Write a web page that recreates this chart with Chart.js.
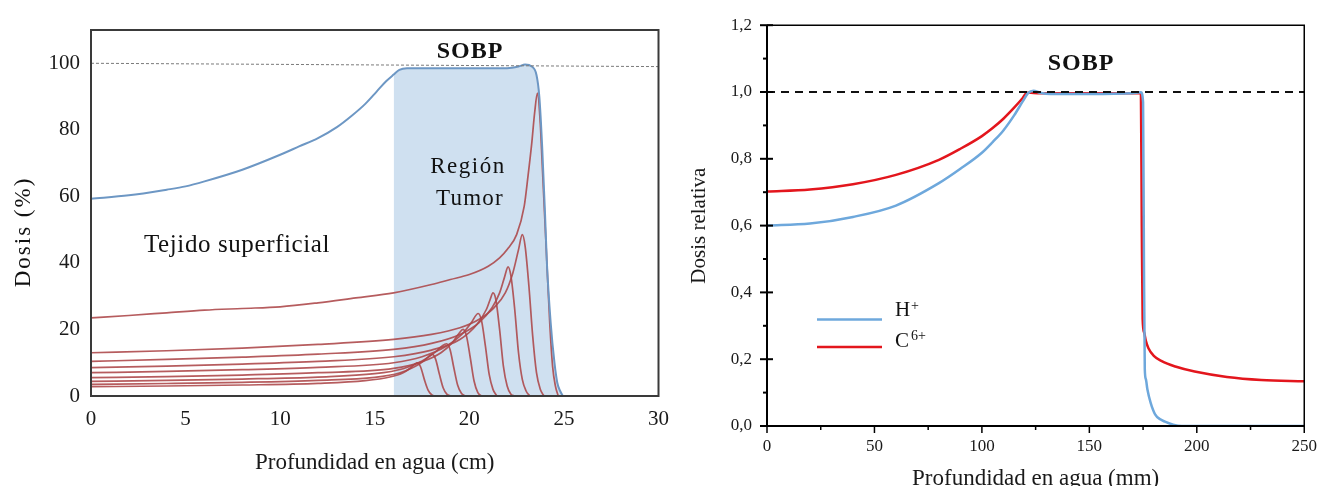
<!DOCTYPE html>
<html><head><meta charset="utf-8">
<script src="https://cdn.jsdelivr.net/npm/chart.js@4.4.1/dist/chart.umd.min.js"></script>
<style>
html,body{margin:0;padding:0;background:#fff;}
#wrap{position:relative;width:1327px;height:486px;overflow:hidden;background:#fff;}
#c1{position:absolute;left:0;top:0;}
#c2{position:absolute;left:680px;top:0;}
</style></head><body>
<div id="wrap"><canvas id="c1" width="680" height="486"></canvas><canvas id="c2" width="647" height="486"></canvas></div>
<script>
// ---------- Left chart data (depth cm, dose %) ----------
const leftXTicks = [0, 5, 10, 15, 20, 25, 30];
const refX = [0, 30];
const refY = [100, 99];
const sobpX = [0,2,4,5,6,8,10,11,12,13,13.8,14.5,15.1,15.6,16.0,16.3,16.7,18,20,22,22.6,22.95,23.3,23.55,23.7,23.85,24.0,24.1,24.3,24.5,24.65,24.8,24.95];
const sobpY = [59.3,60.3,62,63,64.5,68,72.5,75,77.5,80.8,84.3,87.8,91.5,94.6,96.6,98.0,98.5,98.5,98.5,98.5,99,99.6,99,96.5,90,75,55,40,22,10,4,1.5,0];
const regionStart = 16;

const peak1X = [0,2,4,6,8,10,12,14,16,18,19,20,21,21.6,22,22.5,22.9,23.1,23.3,23.45,23.6,23.75,23.85,24.0,24.1,24.25,24.4,24.55,24.7];
const peak1Y = [23.5,24.2,25,25.8,26.3,26.8,28,29.5,31,33.5,35,36.5,39,41.5,44,48.5,57,66,76,85,91,82,70,52,40,22,9,3,0];
const peak2X = [0,4,8,12,16,18,19.5,20.5,21.3,21.9,22.3,22.6,22.8,22.95,23.15,23.35,23.55,23.75,23.95];
const peak2Y = [13,13.6,14.4,15.5,17,18.5,20.5,23,26.5,31,37,44,48.5,45,33,18,7,2,0];
const peak3X = [0,4,8,12,16,18,19.5,20.5,21.2,21.6,21.85,22.05,22.2,22.4,22.6,22.8,23.0,23.2];
const peak3Y = [10.4,11,11.7,12.6,14,15.8,18.5,22,26.5,31,35.5,38.8,36,26,13,5,1.5,0];
const peak4X = [0,4,8,12,16,18,19.5,20.4,20.9,21.1,21.25,21.4,21.6,21.8,22.0,22.2,22.4];
const peak4Y = [8.5,9,9.6,10.4,11.8,13.8,17,21.5,26,29,31,29,20,9,3,0.5,0];
const peak5X = [0,4,8,12,16,17.5,18.8,19.6,20.1,20.47,20.65,20.85,21.05,21.25,21.45];
const peak5Y = [7,7.4,7.9,8.6,10,11.8,15,18.5,22,24.8,22.5,15,6.5,2,0];
const peak6X = [0,4,8,12,16,17.5,18.5,19.1,19.45,19.67,19.85,20.05,20.25,20.45,20.65];
const peak6Y = [5.5,5.8,6.3,7,8.3,10.3,13,16,18.8,20,18,11.5,4.5,1,0];
const peak7X = [0,4,8,12,15,16.5,17.5,18.2,18.55,18.8,18.98,19.18,19.38,19.58,19.78];
const peak7Y = [4.4,4.7,5.1,5.7,6.7,8.2,10.5,13.2,15,15.7,14,8.5,3.3,0.8,0];
const peak8X = [0,4,8,12,15,16.3,17.1,17.6,17.85,18.05,18.22,18.42,18.62,18.82,19.02];
const peak8Y = [3.5,3.75,4.1,4.7,5.6,6.9,8.8,10.6,11.9,12.5,11,6.5,2.4,0.5,0];
const peak9X = [0,4,8,12,14.5,15.8,16.5,16.9,17.1,17.25,17.42,17.62,17.82,18.02,18.2];
const peak9Y = [2.8,3,3.3,3.8,4.6,5.7,7,8.5,9.5,10,8.8,5,1.8,0.3,0];

// ---------- Right chart data (depth mm, relative dose) ----------
const rightYTickLabels = ['0,0','0,2','0,4','0,6','0,8','1,0','1,2'];
const rightXTicks = [0, 50, 100, 150, 200, 250];
const unitX = [0, 250];
const unitY = [1, 1];
const hX = [0,20,40,60,80,90,100,105,110,115,119,121.5,124,127,132,150,170,174,175,175.4,175.8,176.3,177,178.5,180.6,183,185.2,189,193,250];
const hY = [0.6,0.606,0.626,0.66,0.727,0.77,0.818,0.85,0.885,0.93,0.972,0.997,1.004,0.998,0.994,0.994,0.996,0.999,0.97,0.5,0.17,0.14,0.11,0.07,0.035,0.02,0.013,0.004,0,0];
const cX = [0,20,40,60,80,90,100,105,110,115,119,121,124,130,150,170,174,174.4,174.8,175.5,176.3,177.5,180,183.7,190,199,214,230,250];
const cY = [0.702,0.708,0.724,0.752,0.797,0.83,0.868,0.892,0.92,0.953,0.982,0.998,0.997,0.996,0.996,0.996,0.996,0.6,0.32,0.28,0.255,0.233,0.21,0.194,0.178,0.163,0.147,0.138,0.134];

const pts = (xs, ys) => xs.map((x, i) => ({x, y: ys[i]}));
const SERIF = '"Liberation Serif", "Times New Roman", serif';
const redCol = 'rgba(172,70,72,0.88)';
const peaks = [[peak1X,peak1Y],[peak2X,peak2Y],[peak3X,peak3Y],[peak4X,peak4Y],[peak5X,peak5Y],[peak6X,peak6Y],[peak7X,peak7Y],[peak8X,peak8Y],[peak9X,peak9Y]];
const sobpPts = pts(sobpX, sobpY);
const regionPts = sobpPts.filter(p => p.x >= regionStart);

function txt(ctx, s, x, y, size, opts) {
  opts = opts || {};
  ctx.save();
  ctx.font = (opts.bold ? 'bold ' : '') + size + 'px ' + SERIF;
  ctx.fillStyle = opts.color || '#111';
  ctx.textAlign = opts.align || 'center';
  ctx.textBaseline = opts.baseline || 'alphabetic';
  if (opts.ls) ctx.letterSpacing = opts.ls + 'px';
  if (opts.rot) { ctx.translate(x, y); ctx.rotate(opts.rot); ctx.fillText(s, 0, 0); }
  else ctx.fillText(s, x, y);
  ctx.restore();
}

const leftPlugin = {
  id: 'leftDeco',
  afterDatasetsDraw(chart) {
    const {ctx, chartArea: a} = chart;
    ctx.save();
    ctx.strokeStyle = '#3a3a3a';
    ctx.lineWidth = 2;
    ctx.strokeRect(a.left, a.top, a.right - a.left, a.bottom - a.top);
    ctx.restore();
  },
  afterDraw(chart) {
    const ctx = chart.ctx;
    txt(ctx, 'SOBP', 470, 58, 24, {bold: true, ls: 1});
    txt(ctx, 'Región', 468, 173, 23, {ls: 1.5});
    txt(ctx, 'Tumor', 470, 205, 23, {ls: 1.2});
    txt(ctx, 'Tejido superficial', 237, 252, 25, {ls: 0.6});
    txt(ctx, 'Dosis (%)', 24, 232, 23, {ls: 2, rot: -Math.PI / 2, baseline: 'middle'});
  }
};

const common = {pointRadius: 0, cubicInterpolationMode: 'monotone', fill: false};

new Chart(document.getElementById('c1'), {
  type: 'line',
  data: {
    datasets: [
      Object.assign({label: '100 %', data: pts(refX, refY), borderColor: '#7a7a7a', borderWidth: 1, borderDash: [3, 2]}, common),
      Object.assign({label: 'SOBP', data: sobpPts, borderColor: '#6d97c4', borderWidth: 2}, common),
      ...peaks.map((p, i) => Object.assign({label: 'Pico ' + (i + 1), data: pts(p[0], p[1]), borderColor: redCol, borderWidth: 1.7}, common)),
      Object.assign({}, common, {label: 'Región Tumor', data: regionPts, borderWidth: 0, borderColor: 'rgba(0,0,0,0)', backgroundColor: '#cfe0f0', fill: 'origin'})
    ]
  },
  options: {
    responsive: false, animation: false, devicePixelRatio: 1,
    layout: {padding: {top: 30, right: 13, left: 0, bottom: 0}},
    plugins: {legend: {display: false}, tooltip: {enabled: false}},
    scales: {
      x: {
        type: 'linear', min: 0, max: 30,
        afterFit: s => { s.height = 90; },
        afterBuildTicks: s => { s.ticks = leftXTicks.map(v => ({value: v})); },
        grid: {display: false, drawTicks: false},
        border: {display: false},
        ticks: {padding: 11, color: '#1a1a1a', font: {family: SERIF, size: 21}, maxRotation: 0, autoSkip: false},
        title: {display: true, text: 'Profundidad en agua (cm)', color: '#1a1a1a', font: {family: SERIF, size: 23}, padding: {top: 0, bottom: 9}}
      },
      y: {
        type: 'linear', min: 0, max: 110,
        afterFit: s => { s.width = 91; },
        grid: {display: false, drawTicks: false},
        border: {display: false},
        ticks: {stepSize: 20, includeBounds: false, padding: 11, color: '#1a1a1a', font: {family: SERIF, size: 21}},
        title: {display: false}
      }
    }
  },
  plugins: [leftPlugin]
});

const rightPlugin = {
  id: 'rightDeco',
  afterDraw(chart) {
    const {ctx, chartArea: a, scales: {x, y}} = chart;
    ctx.save();
    ctx.strokeStyle = '#000';
    ctx.lineWidth = 1.5;
    ctx.beginPath();
    ctx.moveTo(a.left, a.top); ctx.lineTo(a.right, a.top); ctx.lineTo(a.right, a.bottom);
    ctx.stroke();
    ctx.lineWidth = 2;
    ctx.beginPath();
    ctx.moveTo(a.left, a.top); ctx.lineTo(a.left, a.bottom); ctx.lineTo(a.right, a.bottom);
    ctx.stroke();
    ctx.lineWidth = 2;
    for (let i = 0; i <= 12; i++) {
      const py = y.getPixelForValue(i / 10);
      ctx.beginPath();
      if (i % 2 === 0) { ctx.moveTo(a.left - 7, py); ctx.lineTo(a.left + 6, py); }
      else { ctx.moveTo(a.left - 4, py); ctx.lineTo(a.left, py); }
      ctx.stroke();
    }
    ctx.lineWidth = 1.5;
    for (let i = 0; i <= 10; i++) {
      const px = x.getPixelForValue(i * 25);
      ctx.beginPath();
      ctx.moveTo(px, a.bottom);
      ctx.lineTo(px, a.bottom + (i % 2 === 0 ? 7 : 4));
      ctx.stroke();
    }
    const off = chart.canvas.offsetLeft;
    const lx0 = 817 - off, lx1 = 882 - off;
    ctx.lineWidth = 2.5;
    ctx.strokeStyle = '#6ea8dc';
    ctx.beginPath(); ctx.moveTo(lx0, 319.5); ctx.lineTo(lx1, 319.5); ctx.stroke();
    ctx.strokeStyle = '#e3161d';
    ctx.beginPath(); ctx.moveTo(lx0, 347); ctx.lineTo(lx1, 347); ctx.stroke();
    ctx.restore();
    txt(ctx, 'H', 895 - off, 316, 21, {align: 'left'});
    txt(ctx, '+', 911 - off, 310, 14, {align: 'left'});
    txt(ctx, 'C', 895 - off, 347, 21, {align: 'left'});
    txt(ctx, '6+', 911 - off, 340, 14, {align: 'left'});
    txt(ctx, 'SOBP', 1081 - off, 70, 24, {bold: true, ls: 1});
  }
};

new Chart(document.getElementById('c2'), {
  type: 'line',
  data: {
    datasets: [
      Object.assign({label: '1,0', data: pts(unitX, unitY), borderColor: '#111', borderWidth: 2, borderDash: [8, 6]}, common),
      Object.assign({label: 'H+', data: pts(hX, hY), borderColor: '#6ea8dc', borderWidth: 2.5}, common),
      Object.assign({label: 'C6+', data: pts(cX, cY), borderColor: '#e3161d', borderWidth: 2.5}, common)
    ]
  },
  options: {
    responsive: false, animation: false, devicePixelRatio: 1,
    layout: {padding: {top: 18, right: 16, left: 0, bottom: 0}},
    plugins: {legend: {display: false}, tooltip: {enabled: false}},
    scales: {
      x: {
        type: 'linear', min: 0, max: 250,
        afterFit: s => { s.height = 60; },
        afterBuildTicks: s => { s.ticks = rightXTicks.map(v => ({value: v})); },
        grid: {display: false, drawTicks: false},
        border: {display: false},
        ticks: {padding: 10, color: '#1a1a1a', font: {family: SERIF, size: 17}, maxRotation: 0, autoSkip: false},
        title: {display: true, text: 'Profundidad en agua (mm)', color: '#1a1a1a', font: {family: SERIF, size: 23, lineHeight: 1}, padding: {top: 0, bottom: -4}}
      },
      y: {
        type: 'linear', min: 0, max: 1.2,
        afterFit: s => { s.width = 87; },
        grid: {display: false, drawTicks: false},
        border: {display: false},
        ticks: {stepSize: 0.2, padding: 15, color: '#1a1a1a', font: {family: SERIF, size: 17},
          callback: (v, i) => rightYTickLabels[i]},
        title: {display: true, text: 'Dosis relativa', color: '#1a1a1a', font: {family: SERIF, size: 21}, padding: {top: 7, bottom: 0}}
      }
    }
  },
  plugins: [rightPlugin]
});
</script>
</body></html>
